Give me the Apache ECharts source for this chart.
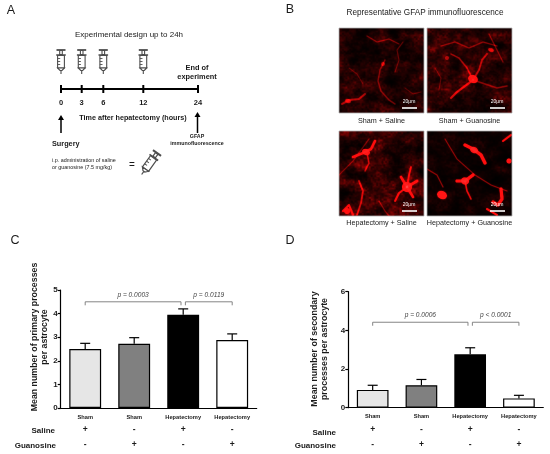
<!DOCTYPE html>
<html><head><meta charset="utf-8">
<script src="https://cdn.jsdelivr.net/npm/echarts@6/dist/echarts.min.js"></script>
<style>html,body{margin:0;padding:0;background:#fff}#c{width:550px;height:454px}</style>
</head><body><div id="c"></div>
<script>
// ---------- data ----------
const categories = ['Sham', 'Sham', 'Hepatectomy', 'Hepatectomy'];
const salineSigns = ['+', '-', '+', '-'];
const guanosineSigns = ['-', '+', '-', '+'];
const primaryMean = [2.5, 2.72, 3.95, 2.88];
const primarySem = [0.24, 0.26, 0.25, 0.26];
const secondaryMean = [0.92, 1.16, 2.76, 0.48];
const secondarySem = [0.24, 0.30, 0.34, 0.16];
const primaryTicks = [0, 1, 2, 3, 4, 5];
const secondaryTicks = [0, 2, 4, 6];
const primaryBrackets = [[0, 2, 'p = 0.0003'], [2, 3, 'p = 0.0119']];
const secondaryBrackets = [[0, 2, 'p = 0.0006'], [2, 3, 'p < 0.0001']];
const primaryBracketLevel = [4.5, 4.8];
const secondaryBracketLevel = [4.42, 4.8];
const timelineHours = ['0', '3', '6', '12', '24'];
const injectionHours = ['0', '3', '6', '12'];
const imageLabels = ['Sham + Saline', 'Sham + Guanosine', 'Hepatectomy + Saline', 'Hepatectomy + Guanosine'];

// ---------- styles ----------
const FONT = 'Liberation Sans, Arial, Helvetica, sans-serif';
const barColors = ['#e6e6e6', '#808080', '#000000', '#ffffff'];

// ---------- fluorescence textures ----------
function hash(x, y, s) { const h = Math.sin(x * 127.1 + y * 311.7 + s * 74.7) * 43758.5453; return h - Math.floor(h); }
function vnoise(x, y, s) {
  const xi = Math.floor(x), yi = Math.floor(y); let xf = x - xi, yf = y - yi;
  xf = xf * xf * (3 - 2 * xf); yf = yf * yf * (3 - 2 * yf);
  const a = hash(xi, yi, s), b = hash(xi + 1, yi, s), c = hash(xi, yi + 1, s), d = hash(xi + 1, yi + 1, s);
  return a + (b - a) * xf + (c - a) * yf + (a - b - c + d) * xf * yf;
}
function fbm(x, y, s) {
  let v = 0, amp = 0.5, f = 1;
  for (let o = 0; o < 4; o++) { v += amp * vnoise(x * f, y * f, s + o); amp *= 0.5; f *= 2.1; }
  return v / 0.9375;
}
const texSpecs = [
  { seed: 1, haze: 0.15,
    strokes: [
      { p: [[3, 76], [10, 72], [20, 71], [26, 66]], w: 2, a: 0.4 },
      { p: [[46, 32], [41, 42], [39, 53], [42, 63], [50, 72], [56, 76]], w: 1.4, a: 0.3 },
      { p: [[28, 8], [38, 14], [50, 11], [60, 16]], w: 1.2, a: 0.3 },
      { p: [[56, 44], [60, 32], [58, 22], [64, 14]], w: 1.1, a: 0.25 },
      { p: [[10, 40], [18, 46], [24, 56]], w: 1, a: 0.22 },
      { p: [[66, 60], [74, 66], [82, 64]], w: 1, a: 0.22 }
    ],
    blobs: [{ c: [9, 73], r: [3, 2], a: 0.45 }, { c: [44, 36], r: [2, 2], a: 0.35 }] },
  { seed: 7, haze: 0.17,
    strokes: [
      { p: [[46, 52], [38, 58], [30, 64], [24, 70]], w: 2.2, a: 0.5 },
      { p: [[46, 52], [52, 42], [55, 32], [60, 26]], w: 1.8, a: 0.42 },
      { p: [[46, 52], [40, 40], [32, 30], [24, 26]], w: 1.5, a: 0.38 },
      { p: [[46, 52], [58, 56], [70, 60], [80, 58]], w: 1.5, a: 0.32 },
      { p: [[14, 18], [28, 14], [42, 20], [56, 14], [70, 18]], w: 1.3, a: 0.32 },
      { p: [[62, 6], [70, 22], [76, 34]], w: 1.2, a: 0.3 },
      { p: [[8, 40], [14, 50], [12, 62]], w: 1, a: 0.25 }
    ],
    blobs: [{ c: [46, 51], r: [5, 4], a: 0.7 }, { c: [64, 22], r: [3, 2], a: 0.45 }, { c: [20, 30], r: [2, 2], a: 0.35 }] },
  { seed: 13, haze: 0.22,
    strokes: [
      { p: [[68, 56], [62, 46]], w: 2.5, a: 0.8 }, { p: [[68, 56], [78, 50]], w: 2.5, a: 0.8 },
      { p: [[68, 56], [74, 66]], w: 2.5, a: 0.8 }, { p: [[68, 56], [60, 62], [56, 70]], w: 2, a: 0.6 },
      { p: [[68, 56], [70, 44], [72, 36]], w: 1.8, a: 0.55 },
      { p: [[14, 26], [24, 22], [32, 18], [36, 10]], w: 2.5, a: 0.8 },
      { p: [[28, 22], [30, 32], [26, 40]], w: 1.5, a: 0.45 },
      { p: [[20, 50], [24, 60], [22, 72], [18, 84]], w: 1.8, a: 0.5 },
      { p: [[4, 80], [10, 74], [14, 84]], w: 2, a: 0.6 },
      { p: [[0, 44], [14, 30], [30, 8]], w: 1.2, a: 0.28 },
      { p: [[40, 70], [46, 80], [50, 85]], w: 1.2, a: 0.32 }
    ],
    blobs: [{ c: [68, 56], r: [5, 5], a: 0.85 }, { c: [27, 21], r: [4, 3], a: 0.85 }, { c: [8, 80], r: [3, 3], a: 0.65 }] },
  { seed: 21, haze: 0.06,
    strokes: [
      { p: [[38, 14], [46, 18], [54, 24], [58, 32]], w: 3.2, a: 1 },
      { p: [[30, 50], [38, 50], [46, 44]], w: 3, a: 1 },
      { p: [[38, 50], [40, 60], [44, 68]], w: 1.6, a: 0.6 },
      { p: [[74, 58], [75, 68], [71, 74], [66, 71]], w: 3, a: 1 },
      { p: [[18, 8], [30, 28], [48, 44], [64, 54], [80, 60]], w: 1.1, a: 0.4 },
      { p: [[0, 38], [10, 44], [16, 56]], w: 1.2, a: 0.4 },
      { p: [[60, 78], [70, 84]], w: 2, a: 0.75 },
      { p: [[76, 10], [84, 4]], w: 2, a: 0.75 }
    ],
    blobs: [{ c: [15, 64], r: [5, 4], a: 1 }, { c: [38, 50], r: [4, 3.5], a: 1 }, { c: [47, 19], r: [4, 3], a: 1 }, { c: [82, 30], r: [2.5, 2.5], a: 0.85 }] }
];
function makeTexture(spec) {
  const S = 2, N = 85;
  const cv = document.createElement('canvas'); cv.width = N * S; cv.height = N * S;
  const ctx = cv.getContext('2d');
  const img = ctx.createImageData(N * S, N * S);
  for (let j = 0; j < N * S; j++) {
    for (let i = 0; i < N * S; i++) {
      const x = i / S, y = j / S;
      const n = fbm((x + y * 0.35) / 14, (y - x * 0.25) / 10, spec.seed);
      const fine = vnoise(x / 1.8, y / 1.8, spec.seed + 9);
      let r = spec.haze * n * n * 4 * (0.5 + 0.8 * fine);
      r = Math.max(0, Math.min(1, r));
      const k = (j * N * S + i) * 4;
      img.data[k] = Math.round(230 * r); img.data[k + 1] = Math.round(6 * r); img.data[k + 2] = Math.round(6 * r); img.data[k + 3] = 255;
    }
  }
  ctx.putImageData(img, 0, 0);
  ctx.scale(S, S);
  ctx.globalCompositeOperation = 'lighter';
  ctx.lineCap = 'round'; ctx.lineJoin = 'round';
  ctx.shadowColor = 'rgba(255,0,0,0.6)'; ctx.shadowBlur = 3;
  spec.strokes.forEach(st => {
    ctx.strokeStyle = 'rgba(240,15,15,' + st.a + ')'; ctx.lineWidth = st.w;
    ctx.beginPath(); ctx.moveTo(st.p[0][0], st.p[0][1]);
    for (let q = 1; q < st.p.length; q++) ctx.lineTo(st.p[q][0], st.p[q][1]);
    ctx.stroke();
  });
  spec.blobs.forEach(b => {
    ctx.fillStyle = 'rgba(250,20,20,' + b.a + ')';
    ctx.beginPath(); ctx.ellipse(b.c[0], b.c[1], b.r[0], b.r[1], 0.4, 0, Math.PI * 2); ctx.fill();
  });
  return cv.toDataURL();
}

// ---------- helpers for graphic ----------
function txt(x, y, text, size, opts) {
  opts = opts || {};
  return { type: 'text', x: x, y: y, rotation: opts.rotation || 0, z: 10,
    style: { text: text, fontSize: size, fontFamily: FONT, fontWeight: opts.bold ? 'bold' : 'normal',
      fontStyle: opts.italic ? 'italic' : 'normal', fill: opts.color || '#1a1a1a',
      align: opts.align || 'center', verticalAlign: 'middle', lineHeight: opts.lineHeight || size * 1.2 } };
}
function syringe(x, y, rot, sc) {
  const st = { stroke: '#4d4d4d', lineWidth: 1.1, fill: '#fff' };
  const children = [
    { type: 'line', shape: { x1: -4.5, y1: 0, x2: 4.5, y2: 0 }, style: { stroke: '#4d4d4d', lineWidth: 1.8 } },
    { type: 'rect', shape: { x: -1.3, y: 0.5, width: 2.6, height: 4 }, style: st },
    { type: 'line', shape: { x1: -4.8, y1: 5, x2: 4.8, y2: 5 }, style: { stroke: '#4d4d4d', lineWidth: 1.5 } },
    { type: 'rect', shape: { x: -3.4, y: 5.5, width: 6.8, height: 12.5 }, style: st },
    { type: 'polygon', shape: { points: [[-3.4, 18], [3.4, 18], [1, 20.5], [-1, 20.5]] }, style: st },
    { type: 'line', shape: { x1: 0, y1: 20.5, x2: 0, y2: 24 }, style: { stroke: '#4d4d4d', lineWidth: 1.1 } }
  ];
  [8.5, 11.5, 14.5].forEach(g => children.push({ type: 'line', shape: { x1: -3.4, y1: g, x2: -0.8, y2: g }, style: { stroke: '#4d4d4d', lineWidth: 0.9 } }));
  return { type: 'group', x: x, y: y, rotation: rot || 0, scaleX: sc || 1, scaleY: sc || 1, children: children };
}
function arrowUp(x, yTop, yBot) {
  return [
    { type: 'line', shape: { x1: x, y1: yBot, x2: x, y2: yTop + 4 }, style: { stroke: '#000', lineWidth: 1.5 } },
    { type: 'polygon', shape: { points: [[x - 3, yTop + 5], [x + 3, yTop + 5], [x, yTop]] }, style: { fill: '#000' } }
  ];
}

// ---------- graphic (panels A & B, labels) ----------
const graphic = [];
graphic.push(txt(11, 11, 'A', 12.5), txt(290, 10, 'B', 12.5), txt(15, 241, 'C', 12.5), txt(290, 241, 'D', 12.5));
// Panel A
graphic.push(txt(129, 35, 'Experimental design up to 24h', 8));
const tlX = [61, 81.7, 103.3, 143.3, 198];
graphic.push({ type: 'line', shape: { x1: tlX[0], y1: 89, x2: tlX[4], y2: 89 }, style: { stroke: '#000', lineWidth: 2 } });
timelineHours.forEach((h, i) => {
  graphic.push({ type: 'line', shape: { x1: tlX[i], y1: 85, x2: tlX[i], y2: 93 }, style: { stroke: '#000', lineWidth: 2 } });
  graphic.push(txt(tlX[i], 103, h, 7.5, { bold: true }));
});
injectionHours.forEach((h, i) => graphic.push(syringe(tlX[i], 50)));
graphic.push(txt(197, 72.5, 'End of\nexperiment', 7.4, { bold: true, lineHeight: 9 }));
graphic.push(txt(133, 118, 'Time after hepatectomy (hours)', 7.2, { bold: true }));
graphic.push(...arrowUp(61, 115, 133), ...arrowUp(197.5, 112, 133));
graphic.push(txt(52, 144, 'Surgery', 7.3, { bold: true, align: 'left' }));
graphic.push(txt(197, 140.5, 'GFAP\nimmunofluorescence', 5.3, { bold: true, lineHeight: 7 }));
graphic.push(txt(52, 164, 'i.p. administration of saline\nor guanosine (7.5 mg/kg)', 5.4, { align: 'left', lineHeight: 7 }));
graphic.push(txt(132, 165, '=', 10));
graphic.push(syringe(157, 153, -0.62, 1.1));
// Panel B
graphic.push(txt(425, 13, 'Representative GFAP immunofluorescence', 8.2));
const imgPos = [[339, 28], [427, 28], [339, 131], [427, 131]];
const labelY = [121, 121, 223, 223];
imgPos.forEach((p, i) => {
  graphic.push({ type: 'image', x: p[0], y: p[1], style: { image: makeTexture(texSpecs[i]), width: 85, height: 85 } });
  graphic.push({ type: 'rect', shape: { x: p[0], y: p[1], width: 85, height: 85 }, style: { fill: null, stroke: '#b0b0b0', lineWidth: 0.8 } });
  graphic.push(txt(p[0] + 70, p[1] + 74, '20μm', 5, { color: '#fff' }));
  graphic.push({ type: 'line', shape: { x1: p[0] + 63, y1: p[1] + 80, x2: p[0] + 78, y2: p[1] + 80 }, style: { stroke: '#fff', lineWidth: 1.6 } });
  graphic.push(txt(p[0] + 42.5, labelY[i], imageLabels[i], 7.2));
});
// Axis titles and row labels for C / D
graphic.push(txt(39.5, 337, 'Mean number of primary processes\nper astrocyte', 8.8, { bold: true, rotation: Math.PI / 2, lineHeight: 10 }));
graphic.push(txt(319.5, 349, 'Mean number of secondary\nprocesses per astrocyte', 8.9, { bold: true, rotation: Math.PI / 2, lineHeight: 10 }));
graphic.push(txt(55, 430.5, 'Saline', 8, { bold: true, align: 'right' }), txt(56, 445.5, 'Guanosine', 8, { bold: true, align: 'right' }));
graphic.push(txt(336, 432.5, 'Saline', 8, { bold: true, align: 'right' }), txt(336, 446, 'Guanosine', 8, { bold: true, align: 'right' }));

// ---------- series builders ----------
function errorSeries(idx, mean, sem) {
  return { type: 'custom', xAxisIndex: idx, yAxisIndex: idx, z: 5,
    data: mean.map((m, i) => [i, m, m + sem[i]]),
    renderItem: (params, api) => {
      const a = api.coord([api.value(0), api.value(1)]), b = api.coord([api.value(0), api.value(2)]);
      return { type: 'group', children: [
        { type: 'line', shape: { x1: a[0], y1: a[1], x2: b[0], y2: b[1] }, style: { stroke: '#000', lineWidth: 1.2 } },
        { type: 'line', shape: { x1: b[0] - 5, y1: b[1], x2: b[0] + 5, y2: b[1] }, style: { stroke: '#000', lineWidth: 1.2 } }
      ] };
    } };
}
function bracketSeries(idx, brackets, level) {
  return { type: 'custom', xAxisIndex: idx, yAxisIndex: idx, z: 5,
    data: brackets.map(b => [b[0], b[1], level[0], level[1]]),
    renderItem: (params, api) => {
      const x1 = api.value(0), x2 = api.value(1);
      const a = api.coord([x1, api.value(2)]), b = api.coord([x2, api.value(2)]), t = api.coord([x1, api.value(3)]);
      const l = a[0] + (x1 === 2 ? 2.2 : 0), r = b[0] - (x2 === 2 ? 2.2 : 0);
      return { type: 'group', children: [
        { type: 'polyline', shape: { points: [[l, a[1] + 3.5], [l, a[1]], [r, a[1]], [r, a[1] + 3.5]] }, style: { stroke: '#777', lineWidth: 0.9, fill: null } },
        { type: 'text', x: (l + r) / 2, y: t[1], style: { text: brackets[params.dataIndex][2], fontSize: 6.6, fontStyle: 'italic', fontFamily: FONT, fill: '#444', align: 'center', verticalAlign: 'middle' } }
      ] };
    } };
}
function xAxisCfg(idx) {
  return { type: 'category', gridIndex: idx, data: categories,
    axisLine: { lineStyle: { color: '#000', width: 1.2 } },
    axisTick: { alignWithLabel: true, length: 3, lineStyle: { color: '#000', width: 1.2 } },
    axisLabel: { margin: 3, interval: 0, fontFamily: FONT,
      formatter: (v, i) => '{c|' + v + '}\n{s|' + salineSigns[i] + '}\n{g|' + guanosineSigns[i] + '}',
      rich: { c: { fontSize: 5.7, fontWeight: 'bold', lineHeight: 12, color: '#1a1a1a', fontFamily: FONT },
              s: { fontSize: 8.5, fontWeight: 'bold', lineHeight: 14, color: '#1a1a1a', fontFamily: FONT },
              g: { fontSize: 8.5, fontWeight: 'bold', lineHeight: 15, color: '#1a1a1a', fontFamily: FONT } } } };
}
function yAxisCfg(idx, ticks) {
  return { type: 'value', gridIndex: idx, min: ticks[0], max: ticks[ticks.length - 1], interval: ticks[1] - ticks[0],
    splitLine: { show: false },
    axisLine: { show: true, lineStyle: { color: '#000', width: 1.2 } },
    axisTick: { show: true, length: 3, lineStyle: { color: '#000', width: 1.2 } },
    axisLabel: { margin: 3, fontSize: 8, fontWeight: 'bold', color: '#1a1a1a', fontFamily: FONT } };
}
function barSeries(idx, mean) {
  return { type: 'bar', xAxisIndex: idx, yAxisIndex: idx, barWidth: '65%', z: 3,
    data: mean.map((v, i) => ({ value: v, itemStyle: { color: barColors[i] } })),
    itemStyle: { borderColor: '#000', borderWidth: 1.2 } };
}

const chart = echarts.init(document.getElementById('c'));
chart.setOption({
  animation: false,
  backgroundColor: '#fff',
  grid: [
    { left: 60.7, width: 196, top: 290, height: 118 },
    { left: 348.3, width: 195, top: 291.7, height: 116 }
  ],
  xAxis: [xAxisCfg(0), xAxisCfg(1)],
  yAxis: [yAxisCfg(0, primaryTicks), yAxisCfg(1, secondaryTicks)],
  series: [
    barSeries(0, primaryMean), errorSeries(0, primaryMean, primarySem), bracketSeries(0, primaryBrackets, primaryBracketLevel),
    barSeries(1, secondaryMean), errorSeries(1, secondaryMean, secondarySem), bracketSeries(1, secondaryBrackets, secondaryBracketLevel)
  ],
  graphic: graphic
});
</script></body></html>
